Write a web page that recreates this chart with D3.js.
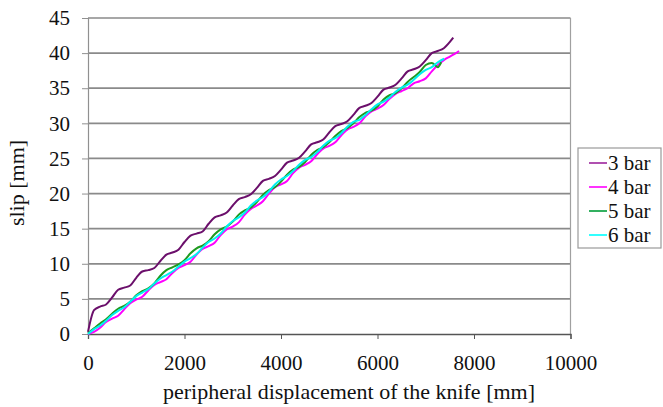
<!DOCTYPE html>
<html><head><meta charset="utf-8">
<script src="https://cdn.jsdelivr.net/npm/d3@7/dist/d3.min.js"></script>
</head>
<body style="margin:0;background:#fff">
<svg id="chart" width="663" height="407" style="display:block"></svg>
<script>
// ---- data ----
const displacement = [0,125,250,375,500,625,750,875,1000,1125,1250,1375,1500,1625,1750,1875,2000,2125,2250,2375,2500,2625,2750,2875,3000,3125,3250,3375,3500,3625,3750,3875,4000,4125,4250,4375,4500,4625,4750,4875,5000,5125,5250,5375,5500,5625,5750,5875,6000,6125,6250,6375,6500,6625,6750,6875,7000,7125,7250,7375,7500,7625];
const seriesNames = ["3 bar","4 bar","5 bar","6 bar"];
const slip3bar = [0.3,3.4,3.9,4.2,5.2,6.3,6.6,6.9,8.0,8.9,9.1,9.4,10.4,11.3,11.6,12.0,13.1,14.0,14.3,14.6,15.7,16.6,16.9,17.3,18.3,19.2,19.5,19.9,20.8,21.8,22.1,22.5,23.4,24.4,24.7,25.1,26.0,27.0,27.3,27.7,28.7,29.6,29.9,30.3,31.2,32.2,32.5,32.9,33.8,34.8,35.1,35.5,36.4,37.4,37.7,38.1,39.0,40.0,40.3,40.7,41.6];
const slip4bar = [0.0,0.3,0.9,1.7,2.2,2.6,3.5,4.4,4.9,5.3,6.2,7.0,7.4,7.8,8.7,9.4,9.8,10.3,11.3,12.1,12.5,13.0,14.1,14.9,15.3,15.9,17.0,17.8,18.3,18.9,20.0,20.9,21.3,21.8,22.9,23.7,24.1,24.6,25.6,26.4,26.8,27.3,28.3,29.1,29.5,30.0,31.0,31.7,32.1,32.6,33.5,34.2,34.6,35.0,35.7,36.0,36.4,37.4,38.3,39.0,39.5,40.0];
const slip5bar = [0.1,0.8,1.5,2.1,2.9,3.6,4.0,4.6,5.5,6.1,6.5,7.2,8.3,9.1,9.5,9.9,10.5,11.5,12.2,12.6,13.2,14.2,14.9,15.3,16.0,17.0,17.6,18.0,18.8,19.8,20.5,20.9,21.7,22.7,23.4,23.8,24.5,25.5,26.2,26.6,27.3,28.2,28.9,29.3,30.0,30.9,31.5,31.8,32.4,33.4,34.0,34.3,35.0,35.9,36.6,37.3,38.3,38.6,38.0];
const slip6bar = [0.0,0.7,1.2,1.9,2.7,3.3,3.8,4.6,5.4,5.9,6.4,7.2,7.9,8.4,8.9,9.6,10.3,10.8,11.4,12.3,13.1,13.6,14.3,15.3,16.1,16.6,17.3,18.3,19.0,19.5,20.3,21.3,22.0,22.5,23.2,24.1,24.8,25.2,25.9,26.8,27.5,27.9,28.6,29.5,30.2,30.5,31.2,32.0,32.7,33.1,33.7,34.5,35.1,35.5,36.2,37.0,37.6,38.0,38.7];
const endDisplacement = [7570,7690,7320,7380];
const endSlip = [42.2,40.3,38.7,39.2];
const seriesColors = ["#6b0f6b","#ff00ff","#1f9a1f","#00f0f0"];
const legendColors = ["#b050b0","#ff33ff","#33b060","#33ffff"];
const xTicks = [0,2000,4000,6000,8000,10000];
const yTicks = [0,5,10,15,20,25,30,35,40,45];
const xTitle = "peripheral displacement of the knife [mm]";
const yTitle = "slip [mm]";

const FONT = "Liberation Serif";

// ---- layout ----
const svg = d3.select("#chart");
const mLeft = 88, mRight = 570.5, mTop = 18, mBottom = 334;
const x = d3.scaleLinear().domain([0,10000]).range([mLeft,mRight]);
const y = d3.scaleLinear().domain([0,45]).range([mBottom,mTop]);

// gridlines
svg.append("g").selectAll("line").data(yTicks.filter(d=>d>0)).join("line")
  .attr("x1",mLeft).attr("x2",mRight).attr("y1",d=>y(d)).attr("y2",d=>y(d))
  .attr("stroke","#8a8a8a").attr("stroke-width",1.7);
// right border
svg.append("line").attr("x1",mRight).attr("x2",mRight).attr("y1",mTop).attr("y2",mBottom)
  .attr("stroke","#a0a0a0").attr("stroke-width",1.2);

// y axis
const yAxis = svg.append("g").attr("transform",`translate(${mLeft},0)`)
  .call(d3.axisLeft(y).tickValues(yTicks).tickSize(6).tickPadding(12).tickFormat(d3.format("d")));
yAxis.attr("font-family",null).attr("font-size",null);
yAxis.select(".domain").attr("stroke","#909090").attr("stroke-width",1.2);
yAxis.selectAll(".tick line").attr("stroke","#909090");
yAxis.selectAll("text").style("font-size","21px").style("fill","#111").style("font-family",FONT);

// x axis
const xAxis = svg.append("g").attr("transform",`translate(0,${mBottom})`)
  .call(d3.axisBottom(x).tickValues(xTicks).tickSize(5).tickPadding(16).tickFormat(d3.format("d")));
xAxis.attr("font-family",null).attr("font-size",null);
xAxis.select(".domain").attr("stroke","#555").attr("stroke-width",1.3);
xAxis.selectAll(".tick line").attr("stroke","#555");
xAxis.selectAll("text").style("font-size","21px").style("fill","#111").style("font-family",FONT);

// series
const allSlip = [slip3bar, slip4bar, slip5bar, slip6bar];
const line = d3.line().x(d=>x(d[0])).y(d=>y(d[1])).curve(d3.curveMonotoneX);
allSlip.forEach((vals,i)=>{
  const pts = vals.map((v,j)=>[displacement[j],v]);
  pts.push([endDisplacement[i], endSlip[i]]);
  svg.append("path").datum(pts).attr("d",line)
    .attr("fill","none").attr("stroke",seriesColors[i]).attr("stroke-width",2)
    .attr("stroke-linejoin","round");
});

// titles
svg.append("text").attr("x",349).attr("y",399).attr("text-anchor","middle")
  .style("font-size","22px").style("font-family",FONT).style("fill","#111").text(xTitle);
svg.append("text").attr("transform","translate(24,183) rotate(-90)").attr("text-anchor","middle")
  .style("font-size","22px").style("font-family",FONT).style("fill","#111").text(yTitle);

// legend
const lg = svg.append("g");
lg.append("rect").attr("x",578).attr("y",148).attr("width",83).attr("height",100)
  .attr("fill","#fff").attr("stroke","#9a9a9a").attr("stroke-width",1.2);
seriesNames.forEach((name,i)=>{
  const cy = 163 + i*24;
  lg.append("line").attr("x1",589).attr("x2",607).attr("y1",cy).attr("y2",cy)
    .attr("stroke",legendColors[i]).attr("stroke-width",2);
  lg.append("text").attr("x",608).attr("y",cy+7)
    .style("font-size","21px").style("font-family",FONT).style("fill","#111").text(name);
});
</script>
</body></html>
